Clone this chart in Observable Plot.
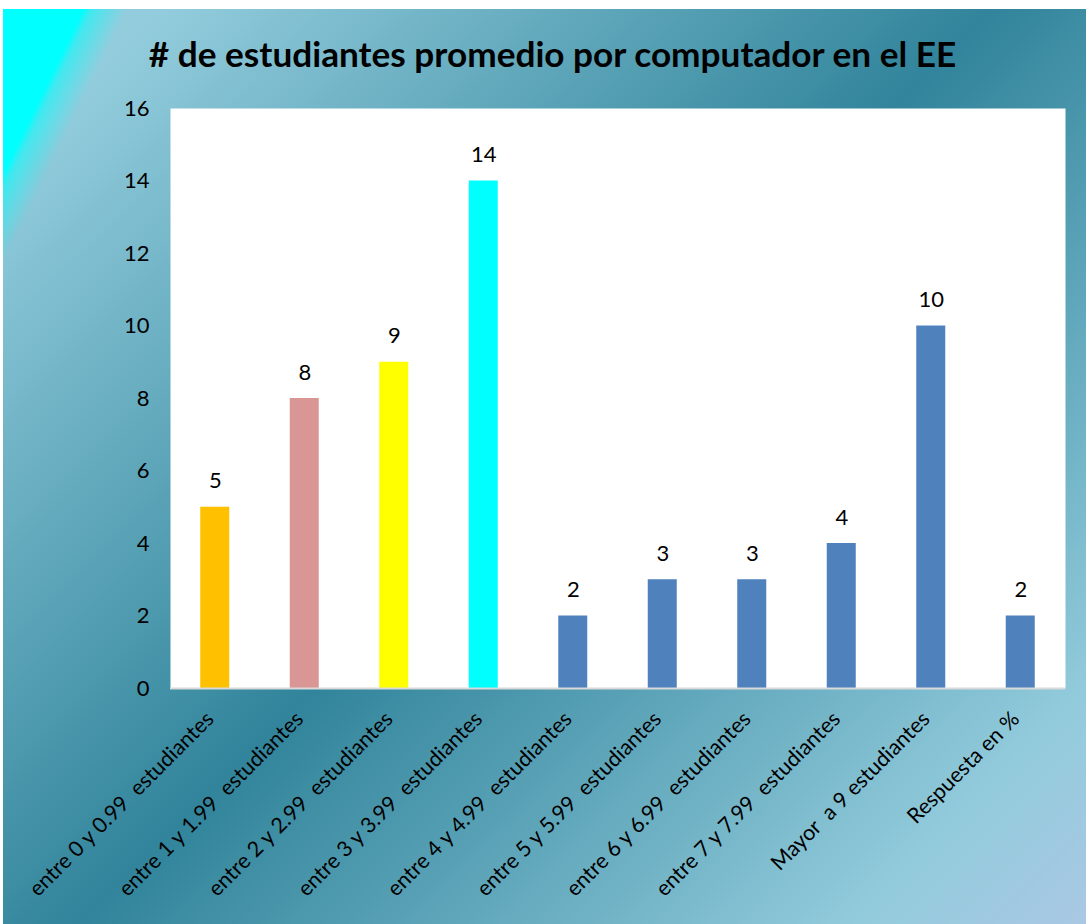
<!DOCTYPE html>
<html>
<head>
<meta charset="utf-8">
<script src="https://cdn.jsdelivr.net/npm/d3@7"></script>
<script src="https://cdn.jsdelivr.net/npm/@observablehq/plot@0.6"></script>
<style>
  html, body { margin: 0; padding: 0; background: #ffffff; }
  #wrap {
    position: relative;
    margin-top: 9px; margin-left: 3px;
    width: 1083px; height: 915px; overflow: hidden;
    background:
      linear-gradient(116deg, #00FFFF 0px, #00FFFF 72px, rgba(0,255,255,0.55) 80px, rgba(0,255,255,0) 112px),
      linear-gradient(135deg, #93CDDD 0px, #93CDDD 110px, #31849B 700px, #92CBDC 1250px, #AAC8E4 1413px);
  }
  #title {
    height: 53px; padding-top: 27px; padding-left: 16px;
    box-sizing: content-box;
    text-align: center;
    font-family: Lato, sans-serif; font-weight: bold; font-size: 35.2px; line-height: 34px;
    color: #000;
  }
  #chart svg { display: block; }
</style>
</head>
<body>
<div id="wrap">
  <div id="title"># de estudiantes promedio por computador en el EE</div>
  <div id="chart"></div>
</div>
<script>
const categories = [
  "entre 0 y 0.99  estudiantes",
  "entre 1 y 1.99  estudiantes",
  "entre 2 y 2.99  estudiantes",
  "entre 3 y 3.99  estudiantes",
  "entre 4 y 4.99  estudiantes",
  "entre 5 y 5.99  estudiantes",
  "entre 6 y 6.99  estudiantes",
  "entre 7 y 7.99  estudiantes",
  "Mayor  a 9 estudiantes",
  "Respuesta en %"
];
const values = [5, 8, 9, 14, 2, 3, 3, 4, 10, 2];
const barColors = ["#FFC000", "#D99694", "#FFFF00", "#00FFFF", "#4F81BD", "#4F81BD", "#4F81BD", "#4F81BD", "#4F81BD", "#4F81BD"];
const yTicks = [0, 2, 4, 6, 8, 10, 12, 14, 16];

const data = categories.map((c, i) => ({cat: c, value: values[i], color: barColors[i]}));

const chart = Plot.plot({
  width: 1083,
  height: 835,
  marginTop: 19,
  marginLeft: 167,
  marginRight: 21,
  marginBottom: 236,
  style: {background: "transparent", fontFamily: "Lato, sans-serif", fontSize: "22px", color: "#000", overflow: "visible"},
  x: {domain: categories, paddingInner: 0.676, paddingOuter: 0.338, round: false, label: null},
  y: {domain: [0, 16], label: null},
  color: {type: "identity"},
  marks: [
    Plot.frame({fill: "white", stroke: null}),
    Plot.barY(data, {x: "cat", y: "value", fill: "color"}),
    Plot.ruleY([0], {stroke: "#d9d9d9", strokeWidth: 2}),
    Plot.text(data, {x: "cat", y: "value", text: d => String(d.value), dy: -26, fontSize: 22, fill: "#000"}),
    Plot.axisY({ticks: yTicks, tickSize: 0, tickPadding: 21, fontSize: 22, fill: "#000", label: null}),
    Plot.axisX({tickRotate: -45, tickSize: 0, tickPadding: 24, dx: -5, dy: 3, fontSize: 21.5, fill: "#000", label: null})
  ]
});
document.getElementById("chart").appendChild(chart);
</script>
</body>
</html>
